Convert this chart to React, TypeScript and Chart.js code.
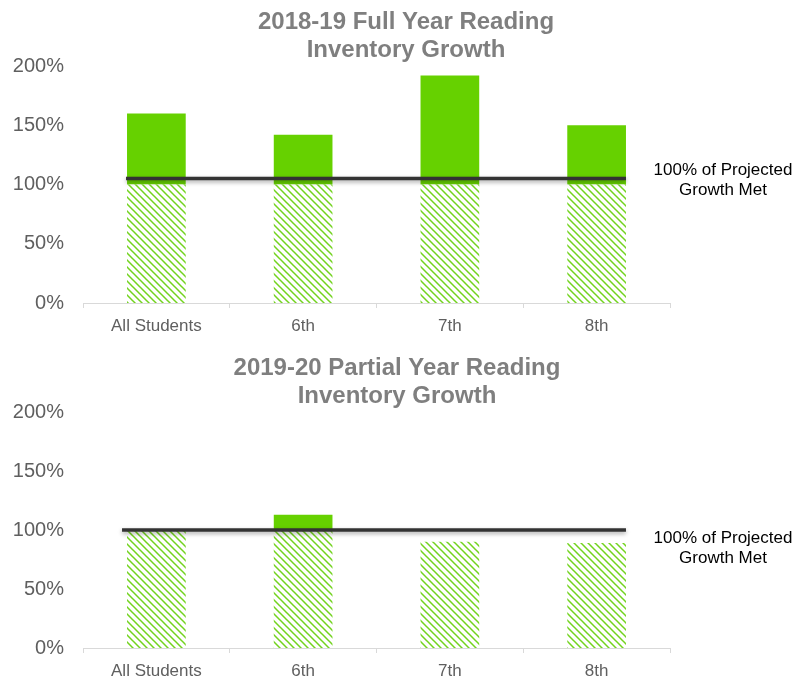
import React, { useEffect, useRef } from "react";
import { Chart, registerables } from "chart.js";

Chart.register(...registerables);

// ---- data ----
const categories = ["All Students", "6th", "7th", "8th"];
const fullYearValues = [160, 142, 192, 150];
const partialYearValues = [100, 113, 90, 89];
const yTickValues = [0, 50, 100, 150, 200];
const fullYearTitle = ["2018-19 Full Year Reading", "Inventory Growth"];
const partialYearTitle = ["2019-20 Partial Year Reading", "Inventory Growth"];
const referenceLabel = ["100% of Projected", "Growth Met"];
const fullYearReference = 105;
const partialYearReference = 100;
const projectedThreshold = 100;

// ---- styles ----
const FONT = "'Liberation Sans', Arial, Helvetica, sans-serif";
const SOLID_GREEN = "#66d100";
const HATCH_GREEN = "#72d31e";
const AXIS_GRAY = "#d9d9d9";
const TICK_GRAY = "#5f5f5f";
const TITLE_GRAY = "#7f7f7f";

function makeHatch(ctx: CanvasRenderingContext2D): CanvasPattern | string {
  const s = 7;
  const c = document.createElement("canvas");
  c.width = s;
  c.height = s;
  const g = c.getContext("2d");
  if (!g) return HATCH_GREEN;
  g.fillStyle = "#ffffff";
  g.fillRect(0, 0, s, s);
  g.strokeStyle = HATCH_GREEN;
  g.lineWidth = 1.5;
  g.beginPath();
  g.moveTo(-1, -1);
  g.lineTo(s + 1, s + 1);
  g.moveTo(-1, s - 1);
  g.lineTo(1, s + 1);
  g.moveTo(s - 1, -1);
  g.lineTo(s + 1, 1);
  g.stroke();
  return ctx.createPattern(c, "repeat") || HATCH_GREEN;
}

type Props = {
  title: string[];
  values: number[];
  reference: number;
  top: number;
  height: number;
  areaTop: number;
  areaBottom: number;
  titleX: number;
  labelCenterY: number;
  lineStartExtra: number;
};

function GrowthChart(p: Props) {
  const ref = useRef<HTMLCanvasElement>(null);
  useEffect(() => {
    const canvas = ref.current;
    if (!canvas) return;
    const ctx = canvas.getContext("2d");
    if (!ctx) return;
    const hatch = makeHatch(ctx);
    const base = p.values.map((v) => Math.min(v, projectedThreshold));
    const extra = p.values.map((v) => Math.max(v - projectedThreshold, 0));
    const xAxisHeight = 32;

    const decor = {
      id: "decor",
      afterDatasetsDraw(chart: any) {
        const c = chart.ctx as CanvasRenderingContext2D;
        const area = chart.chartArea;
        const y = chart.scales.y.getPixelForValue(p.reference);
        const meta = chart.getDatasetMeta(0);
        const first = meta.data[0];
        const last = meta.data[meta.data.length - 1];
        const x0 = first.x - first.width / 2 - p.lineStartExtra;
        const x1 = last.x + last.width / 2;
        c.save();
        c.shadowColor = "rgba(0,0,0,0.35)";
        c.shadowBlur = 4;
        c.shadowOffsetY = 2;
        c.strokeStyle = "#333333";
        c.lineWidth = 3.5;
        c.lineCap = "butt";
        c.beginPath();
        c.moveTo(x0, y);
        c.lineTo(x1, y);
        c.stroke();
        c.restore();

        c.save();
        c.fillStyle = "#000000";
        c.font = `17px ${FONT}`;
        c.textAlign = "center";
        c.textBaseline = "middle";
        c.fillText(referenceLabel[0], 723, p.labelCenterY - 10);
        c.fillText(referenceLabel[1], 723, p.labelCenterY + 10);
        c.restore();

        c.save();
        c.fillStyle = TITLE_GRAY;
        c.font = `bold 24px ${FONT}`;
        c.textAlign = "center";
        c.textBaseline = "middle";
        c.fillText(p.title[0], p.titleX, area.top - 44);
        c.fillText(p.title[1], p.titleX, area.top - 16);
        c.restore();
      },
    };

    const chart = new Chart(canvas, {
      type: "bar",
      data: {
        labels: categories,
        datasets: [
          {
            data: base,
            backgroundColor: hatch as any,
            borderWidth: 0,
            categoryPercentage: 0.8,
            barPercentage: 0.5,
          },
          {
            data: extra,
            backgroundColor: SOLID_GREEN,
            borderWidth: 0,
            categoryPercentage: 0.8,
            barPercentage: 0.5,
          },
        ],
      },
      options: {
        responsive: false,
        animation: false,
        layout: {
          padding: {
            top: p.areaTop,
            right: 797 - 670,
            left: 0,
            bottom: p.height - p.areaBottom - xAxisHeight,
          },
        },
        plugins: {
          legend: { display: false },
          title: { display: false },
          tooltip: { enabled: false },
        },
        scales: {
          x: {
            stacked: true,
            grid: {
              display: true,
              drawOnChartArea: false,
              drawTicks: true,
              tickLength: 5,
              color: AXIS_GRAY,
            },
            border: { display: true, color: AXIS_GRAY, width: 1 },
            ticks: {
              color: TICK_GRAY,
              padding: 8,
              font: { family: FONT, size: 17 },
              maxRotation: 0,
            },
            afterFit(scale: any) {
              scale.height = xAxisHeight;
            },
          },
          y: {
            stacked: true,
            min: 0,
            max: 200,
            grid: { display: false, drawTicks: false },
            border: { display: false },
            ticks: {
              color: TICK_GRAY,
              padding: 19,
              font: { family: FONT, size: 20 },
              callback: (v: any) => `${v}%`,
            },
            afterBuildTicks(scale: any) {
              scale.ticks = yTickValues.map((v) => ({ value: v }));
            },
            afterFit(scale: any) {
              scale.width = 83;
            },
          },
        },
      },
      plugins: [decor],
    });
    return () => chart.destroy();
  }, []);
  return (
    <canvas
      ref={ref}
      width={797}
      height={p.height}
      style={{ position: "absolute", left: 0, top: p.top, width: 797, height: p.height }}
    />
  );
}

export default function App() {
  return (
    <div
      style={{
        position: "fixed",
        left: 0,
        top: 0,
        width: 797,
        height: 679,
        background: "#ffffff",
        overflow: "hidden",
      }}
    >
      <GrowthChart
        title={fullYearTitle}
        values={fullYearValues}
        reference={fullYearReference}
        top={0}
        height={340}
        areaTop={66}
        areaBottom={303}
        titleX={406}
        labelCenterY={180}
        lineStartExtra={1}
      />
      <GrowthChart
        title={partialYearTitle}
        values={partialYearValues}
        reference={partialYearReference}
        top={340}
        height={339}
        areaTop={72}
        areaBottom={310}
        titleX={397}
        labelCenterY={208}
        lineStartExtra={5}
      />
    </div>
  );
}
